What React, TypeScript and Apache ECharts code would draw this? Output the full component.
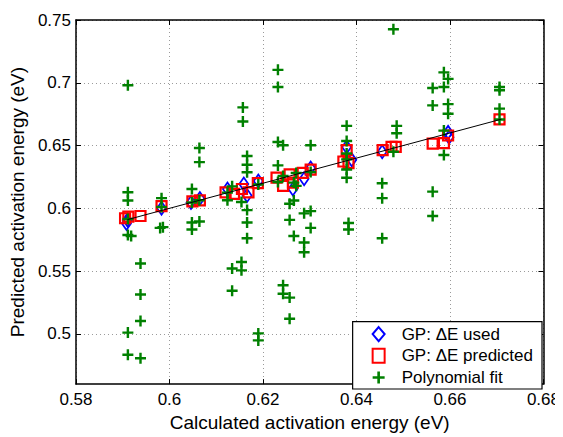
import React, { useEffect, useRef } from "react";
import * as echarts from "echarts";

const xTicks = [0.58, 0.6, 0.62, 0.64, 0.66, 0.68];
const yTicks = [0.5, 0.55, 0.6, 0.65, 0.7, 0.75];

const usedX = [0.5910, 0.5908, 0.5983, 0.6046, 0.6065, 0.6124, 0.6159, 0.6166, 0.6190, 0.6264, 0.6288, 0.6302, 0.6379, 0.6390, 0.6455, 0.6596, 0.6598];
const usedY = [0.5908, 0.5880, 0.6001, 0.6047, 0.6079, 0.6154, 0.6193, 0.6102, 0.6218, 0.6154, 0.6236, 0.6321, 0.6489, 0.6386, 0.6450, 0.6605, 0.6567];

const predX = [0.5905, 0.5912, 0.5938, 0.5983, 0.6049, 0.6065, 0.6120, 0.6138, 0.6155, 0.6169, 0.6189, 0.6229, 0.6243, 0.6257, 0.6264, 0.6285, 0.6302, 0.6379, 0.6372, 0.6383, 0.6456, 0.6475, 0.6484, 0.6563, 0.6587, 0.6596, 0.6706];
const predY = [0.5921, 0.5934, 0.5939, 0.6017, 0.6055, 0.6063, 0.6127, 0.6115, 0.6154, 0.6127, 0.6200, 0.6244, 0.6179, 0.6270, 0.6205, 0.6282, 0.6309, 0.6464, 0.6373, 0.6360, 0.6464, 0.6489, 0.6489, 0.6515, 0.6520, 0.6580, 0.6708];

const polyX = [
  0.5911, 0.5911, 0.5911, 0.5911, 0.5911, 0.5911, 0.5911, 0.5918,
  0.5938, 0.5938, 0.5938, 0.5938,
  0.5983, 0.5983, 0.5980, 0.5986,
  0.6048, 0.6048, 0.6048, 0.6048,
  0.6064, 0.6064, 0.6064, 0.6064,
  0.6124, 0.6124, 0.6134, 0.6134, 0.6134,
  0.6154, 0.6154, 0.6154,
  0.6157, 0.6157,
  0.6166, 0.6166, 0.6166, 0.6166, 0.6166, 0.6166,
  0.6190, 0.6190, 0.6190,
  0.6232, 0.6232, 0.6232, 0.6232, 0.6232,
  0.6243, 0.6243, 0.6243, 0.6243,
  0.6257, 0.6257, 0.6257, 0.6257,
  0.6266, 0.6266, 0.6266,
  0.6271, 0.6271,
  0.6288, 0.6288, 0.6288,
  0.6302, 0.6302, 0.6302, 0.6302,
  0.6379, 0.6379, 0.6379, 0.6379, 0.6379, 0.6379,
  0.6383, 0.6383,
  0.6455, 0.6455, 0.6455,
  0.6479, 0.6479,
  0.6486, 0.6486,
  0.6563, 0.6563, 0.6563, 0.6563,
  0.6587, 0.6587, 0.6587, 0.6587,
  0.6596, 0.6596, 0.6596,
  0.6706, 0.6706, 0.6706, 0.6706,
];
const polyY = [
  0.698, 0.6128, 0.6063, 0.5915, 0.5787, 0.501, 0.4834, 0.5779,
  0.556, 0.5314, 0.5103, 0.4806,
  0.6081, 0.601, 0.5844, 0.585,
  0.6154, 0.6047, 0.5887, 0.5831,
  0.6481, 0.6368, 0.6065, 0.5895,
  0.6125, 0.6065, 0.6175, 0.5521, 0.5343,
  0.5573, 0.5506, 0.605,
  0.6804, 0.6691,
  0.6417, 0.6347, 0.6288, 0.5986, 0.5887, 0.5761,
  0.5004, 0.4948, 0.619,
  0.7103, 0.6967, 0.6528, 0.6342, 0.621,
  0.6502, 0.5387, 0.532, 0.6257,
  0.6037, 0.5908, 0.5289, 0.512,
  0.5779, 0.6063, 0.6205,
  0.6282, 0.6179,
  0.596, 0.5728, 0.565,
  0.6502, 0.5978, 0.5844, 0.629,
  0.6657, 0.6536, 0.6437, 0.639, 0.6309, 0.6244,
  0.5883, 0.5831,
  0.62, 0.6081, 0.5761,
  0.7426, 0.645,
  0.6657, 0.6598,
  0.6959, 0.682, 0.6133, 0.5939,
  0.7083, 0.6967, 0.6425, 0.6619,
  0.7031, 0.683, 0.6753,
  0.6967, 0.6941, 0.6794, 0.6708,
];

const fitX = [0.591, 0.671];
const fitY = [0.591, 0.671];

const FONT = "'Liberation Sans', Arial, Helvetica, sans-serif";
const PLUS = "path://M3.9,0H6.1V3.9H10V6.1H6.1V10H3.9V6.1H0V3.9H3.9Z";

const zip = (xs: number[], ys: number[]) => xs.map((x, i) => [x, ys[i]]);
const fmt = (v: number) => String(parseFloat(v.toFixed(2)));

export default function App() {
  const ref = useRef<HTMLDivElement>(null);
  useEffect(() => {
    if (!ref.current) return;
    const chart = echarts.init(ref.current, undefined, { renderer: "svg" });
    const axisLine = { show: true, onZero: false, lineStyle: { color: "#000", width: 1.5 } };
    const tick = { show: true, inside: true, length: 5, lineStyle: { color: "#000", width: 1 } };
    const grid = { show: true, lineStyle: { color: "#9a9a9a", width: 1, type: [1, 3] as any } };
    chart.setOption({
      animation: false,
      backgroundColor: "#fff",
      textStyle: { fontFamily: FONT },
      grid: { left: 71, right: 16, top: 20, bottom: 43, containLabel: false },
      xAxis: [
        {
          type: "value", min: 0.58, max: 0.68, interval: 0.02, position: "bottom",
          name: "Calculated activation energy (eV)", nameLocation: "middle", nameGap: 24,
          nameTextStyle: { fontSize: 19, color: "#000", fontFamily: FONT },
          axisLine, axisTick: { ...tick, customValues: xTicks }, splitLine: grid,
          axisLabel: { fontSize: 17, color: "#000", margin: 7, fontFamily: FONT, formatter: fmt, customValues: xTicks },
        },
        {
          type: "value", min: 0.58, max: 0.68, interval: 0.02, position: "top",
          axisLine, axisTick: { ...tick, customValues: xTicks }, splitLine: { show: false },
          axisLabel: { show: false, customValues: xTicks },
        },
      ],
      yAxis: [
        {
          type: "value", min: 0.46, max: 0.75, position: "left",
          name: "Predicted activation energy (eV)", nameLocation: "middle", nameGap: 42,
          nameTextStyle: { fontSize: 19, color: "#000", fontFamily: FONT },
          axisLine, axisTick: { ...tick, customValues: yTicks }, splitLine: grid,
          axisLabel: { fontSize: 17, color: "#000", margin: 5, fontFamily: FONT, formatter: fmt, customValues: yTicks },
        },
        {
          type: "value", min: 0.46, max: 0.75, position: "right",
          axisLine, axisTick: { ...tick, customValues: yTicks }, splitLine: { show: false },
          axisLabel: { show: false, customValues: yTicks },
        },
      ],
      legend: {
        orient: "vertical", right: 21, bottom: 48,
        data: ["GP: ΔE used", "GP: ΔE predicted", "Polynomial fit"],
        backgroundColor: "#fff", borderColor: "#000", borderWidth: 1.2,
        padding: [4, 9, 3, 19], itemGap: 4.7, itemWidth: 12, itemHeight: 14,
        textStyle: { fontSize: 17, color: "#000", fontFamily: FONT, lineHeight: 17, padding: [0, 0, 0, 12] },
        z: 10,
      },
      series: [
        {
          name: "GP: ΔE used", type: "scatter", xAxisIndex: 0, yAxisIndex: 0,
          symbol: "diamond", symbolSize: [9, 13], data: zip(usedX, usedY),
          itemStyle: { color: "rgba(0,0,0,0)", borderColor: "#0000ff", borderWidth: 1.8, opacity: 1 },
        },
        {
          name: "GP: ΔE predicted", type: "scatter", xAxisIndex: 0, yAxisIndex: 0,
          symbol: "rect", symbolSize: 10, data: zip(predX, predY),
          itemStyle: { color: "rgba(0,0,0,0)", borderColor: "#ff0000", borderWidth: 2.2, opacity: 1 },
        },
        {
          name: "Polynomial fit", type: "scatter", xAxisIndex: 0, yAxisIndex: 0,
          symbol: PLUS, symbolKeepAspect: true, symbolSize: 11, data: zip(polyX, polyY),
          itemStyle: { color: "#008000", opacity: 1 },
        },
        {
          name: "fit", type: "line", xAxisIndex: 0, yAxisIndex: 0, showSymbol: false,
          data: zip(fitX, fitY), lineStyle: { color: "#000", width: 1 }, silent: true,
        },
      ],
    });
    return () => chart.dispose();
  }, []);
  return <div ref={ref} style={{ width: 563, height: 437, marginLeft: -8, marginTop: -8 }} />;
}
